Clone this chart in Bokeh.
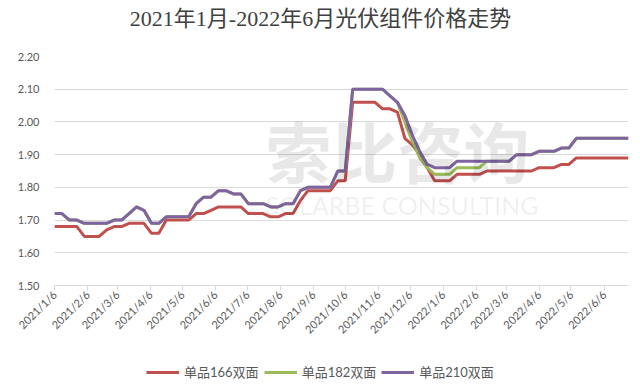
import pandas as pd
from math import pi
from bokeh.plotting import figure
from bokeh.layouts import column
from bokeh.models import Range1d, FixedTicker, Legend, LegendItem, Label, ColumnDataSource
from bokeh.embed import file_html
from bokeh.resources import INLINE

# ---------------- data ----------------
start_date = "2021-01-06"
n_weeks = 78
week_dates = pd.date_range(start_date, periods=n_weeks, freq="7D")

tick_dates = pd.date_range("2021-01-01", "2022-06-01", freq="MS") + pd.Timedelta(days=5)
tick_labels = [f"{d.year}/{d.month}/{d.day}" for d in tick_dates]

mono166 = [1.68, 1.68, 1.68, 1.68, 1.65, 1.65, 1.65, 1.67, 1.68, 1.68,
           1.69, 1.69, 1.69, 1.66, 1.66, 1.70, 1.70, 1.70, 1.70, 1.72,
           1.72, 1.73, 1.74, 1.74, 1.74, 1.74, 1.72, 1.72, 1.72, 1.71,
           1.71, 1.72, 1.72, 1.76, 1.79, 1.79, 1.79, 1.79, 1.82, 1.82,
           2.06, 2.06, 2.06, 2.06, 2.04, 2.04, 2.03, 1.95, 1.93, 1.90,
           1.86, 1.82, 1.82, 1.82, 1.84, 1.84, 1.84, 1.84, 1.85, 1.85,
           1.85, 1.85, 1.85, 1.85, 1.85, 1.86, 1.86, 1.86, 1.87, 1.87,
           1.89, 1.89, 1.89, 1.89, 1.89, 1.89, 1.89, 1.89]

mono182 = [1.72, 1.72, 1.70, 1.70, 1.69, 1.69, 1.69, 1.69, 1.70, 1.70,
           1.72, 1.74, 1.73, 1.69, 1.69, 1.71, 1.71, 1.71, 1.71, 1.75,
           1.77, 1.77, 1.79, 1.79, 1.78, 1.78, 1.75, 1.75, 1.75, 1.74,
           1.74, 1.75, 1.75, 1.79, 1.80, 1.80, 1.80, 1.80, 1.85, 1.85,
           2.10, 2.10, 2.10, 2.10, 2.10, 2.08, 2.06, 2.00, 1.94, 1.89,
           1.86, 1.84, 1.84, 1.84, 1.86, 1.86, 1.86, 1.86, 1.88, 1.88,
           1.88, 1.88, 1.90, 1.90, 1.90, 1.91, 1.91, 1.91, 1.92, 1.92,
           1.95, 1.95, 1.95, 1.95, 1.95, 1.95, 1.95, 1.95]

mono210 = [1.72, 1.72, 1.70, 1.70, 1.69, 1.69, 1.69, 1.69, 1.70, 1.70,
           1.72, 1.74, 1.73, 1.69, 1.69, 1.71, 1.71, 1.71, 1.71, 1.75,
           1.77, 1.77, 1.79, 1.79, 1.78, 1.78, 1.75, 1.75, 1.75, 1.74,
           1.74, 1.75, 1.75, 1.79, 1.80, 1.80, 1.80, 1.80, 1.85, 1.85,
           2.10, 2.10, 2.10, 2.10, 2.10, 2.08, 2.06, 2.02, 1.96, 1.91,
           1.87, 1.86, 1.86, 1.86, 1.88, 1.88, 1.88, 1.88, 1.88, 1.88,
           1.88, 1.88, 1.90, 1.90, 1.90, 1.91, 1.91, 1.91, 1.92, 1.92,
           1.95, 1.95, 1.95, 1.95, 1.95, 1.95, 1.95, 1.95]

title_text = "2021年1月-2022年6月光伏组件价格走势"
series_names = ["单品166双面", "单品182双面", "单品210双面"]
series_colors = ["#C0504D", "#9BBB59", "#8064A2"]
y_ticks = [1.5, 1.6, 1.7, 1.8, 1.9, 2.0, 2.1, 2.2]

FONT = "Lato, 'Noto Sans CJK SC', sans-serif"
W = 640
LEFT = 54     # frame left edge (frames of the stacked figures are aligned)

t0 = pd.Timestamp(start_date)
xs = [int((d - t0).days) for d in week_dates]
tick_pos = [int((d - t0).days) for d in tick_dates]
src = ColumnDataSource(dict(x=xs, a=mono166, b=mono182, c=mono210))

# ---------------- title strip ----------------
pt = figure(width=W, height=36, output_backend="svg", toolbar_location=None,
            x_range=Range1d(0, 1), y_range=Range1d(0, 1), x_axis_type=None, y_axis_type=None,
            min_border=0)
pt.outline_line_color = None
pt.grid.visible = False
pt.add_layout(Label(x=W / 2 - LEFT, y=18, x_units="screen", y_units="screen", text=title_text,
                    text_font="'Liberation Serif', 'Noto Sans CJK SC', serif", text_font_size="22px",
                    text_color="#404040", text_baseline="middle", text_align="center"))

# ---------------- main chart ----------------
p = figure(width=W, height=319, output_backend="svg", toolbar_location=None,
           x_range=Range1d(xs[0], xs[-1]), y_range=Range1d(1.5, 2.2),
           min_border_left=LEFT, min_border_right=12, min_border_top=20, min_border_bottom=70)
p.outline_line_color = None
p.background_fill_color = "white"
p.border_fill_color = "white"

# watermark
p.add_layout(Label(x=211, y=133, x_units="screen", y_units="screen", text="索比咨询",
                   text_font=FONT, text_font_size="66px", text_font_style="bold",
                   text_color="#000000", text_alpha=0.09, text_baseline="middle", text_align="left"))
p.add_layout(Label(x=211, y=81, x_units="screen", y_units="screen", text="SOLARBE CONSULTING",
                   text_font=FONT, text_font_size="25px",
                   text_color="#000000", text_alpha=0.07, text_baseline="middle", text_align="left"))

p.line("x", "a", source=src, line_color=series_colors[0], line_width=3)
p.line("x", "b", source=src, line_color=series_colors[1], line_width=3)
p.line("x", "c", source=src, line_color=series_colors[2], line_width=3)

p.xaxis.ticker = FixedTicker(ticks=tick_pos)
p.xaxis.major_label_overrides = {tp: lab for tp, lab in zip(tick_pos, tick_labels)}
p.xaxis.major_label_orientation = pi / 4
p.xaxis.axis_line_color = "#d9d9d9"
p.xaxis.major_tick_line_color = "#d9d9d9"
p.xaxis.major_tick_out = 5
p.xaxis.major_tick_in = 0
p.xaxis.minor_tick_line_color = None
p.xaxis.major_label_text_font = FONT
p.xaxis.major_label_text_font_size = "11px"
p.xaxis.major_label_text_color = "#595959"
p.xaxis.major_label_standoff = 2

p.yaxis.ticker = FixedTicker(ticks=y_ticks)
p.yaxis.major_label_overrides = {v: f"{v:.2f}" for v in y_ticks}
p.yaxis.axis_line_color = None
p.yaxis.major_tick_line_color = None
p.yaxis.minor_tick_line_color = None
p.yaxis.major_label_text_font = FONT
p.yaxis.major_label_text_font_size = "11px"
p.yaxis.major_label_text_color = "#595959"
p.yaxis.major_label_standoff = 9

p.xgrid.grid_line_color = None
p.ygrid.grid_line_color = "#d9d9d9"
p.ygrid.ticker = FixedTicker(ticks=y_ticks[1:])

# ---------------- legend strip ----------------
# the series are drawn here too, but fall outside this strip's 0..1 view; only their legend entries show
pl = figure(width=W, height=30, output_backend="svg", toolbar_location=None,
            x_range=Range1d(0, 1), y_range=Range1d(0, 1), x_axis_type=None, y_axis_type=None,
            min_border=0)
pl.outline_line_color = None
pl.grid.visible = False
items = []
for name, col, key in zip(series_names, series_colors, ["a", "b", "c"]):
    r = pl.line("x", key, source=src, line_color=col, line_width=3)
    items.append(LegendItem(label=name, renderers=[r]))
pl.add_layout(Legend(items=items, orientation="horizontal", location=(148 - LEFT - 2, 4),
                     label_text_font=FONT, label_text_font_size="13px", label_text_color="#595959",
                     glyph_width=33, glyph_height=14, label_standoff=5, spacing=5,
                     border_line_color=None, background_fill_alpha=0, padding=2, margin=0))

layout = column(pt, p, pl, spacing=0)
open("out.html", "w").write(file_html(layout, INLINE))
